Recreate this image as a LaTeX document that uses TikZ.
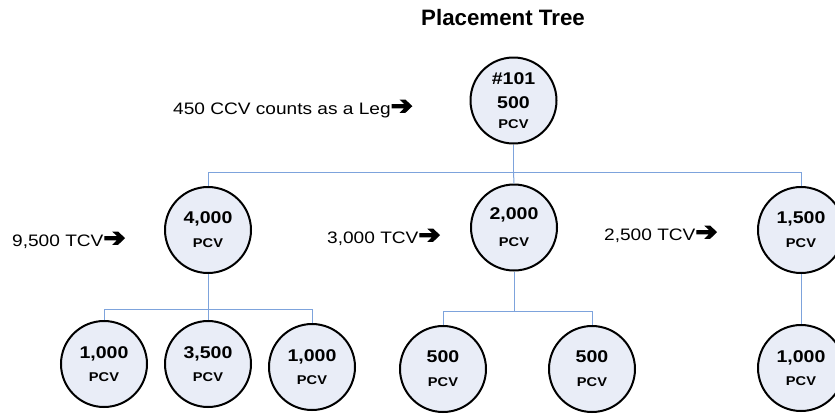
\documentclass[tikz,border=0pt]{standalone}
\usepackage{fontspec}
\setmainfont{Liberation Sans}
\newfontfamily\stf[FakeStretch=1.15]{Liberation Sans}
\newfontfamily\arrf[FakeBold=5,FakeStretch=1.05]{DejaVu Sans}
\definecolor{conncol}{RGB}{125,163,220}
\definecolor{circfill}{RGB}{233,237,247}
\newcommand{\nf}{\stf\bfseries\fontsize{17}{12}\selectfont}
\newcommand{\pf}{\stf\bfseries\fontsize{12.7}{12}\selectfont}
\newcommand{\arr}{{\arrf\fontsize{25}{26}\selectfont\raisebox{0pt}{➔}}}
\begin{document}
\begin{tikzpicture}[x=1pt,y=-1pt,
  circ/.style={circle,draw=black,line width=2pt,fill=circfill,minimum size=86pt,inner sep=0pt,align=center,font=\fontsize{10}{12}\selectfont},
  conn/.style={draw=conncol,line width=1pt},
  lbl/.style={anchor=base west,inner sep=0pt,font=\stf\fontsize{16.6}{20}\selectfont},
  ttl/.style={anchor=base,inner sep=0pt,font=\bfseries\fontsize{22.3}{26}\selectfont}]
\useasboundingbox (0,0) rectangle (835,413);
\coordinate (b0) at (513.5,172);
\coordinate (b1) at (208,309);
\coordinate (b2) at (514,311);
\node[circ] (root) at (513.5,100.5) {\nf \#101\\[11pt]\nf 500\\[8pt]\pf PCV};
\node[circ] (c1) at (208,230) {\nf 4,000\\[12pt]\pf PCV};
\node[circ] (c2) at (514,227.5) {\nf 2,000\\[15pt]\pf PCV};
\node[circ] (c3) at (801,230) {\nf 1,500\\[12pt]\pf PCV};
\node[circ] (d1) at (104,364) {\nf 1,000\\[11pt]\pf PCV};
\node[circ] (d2) at (208,364) {\nf 3,500\\[11pt]\pf PCV};
\node[circ] (d3) at (312,367) {\nf 1,000\\[11pt]\pf PCV};
\node[circ] (d4) at (443,369) {\nf 500\\[12pt]\pf PCV};
\node[circ] (d5) at (592,369) {\nf 500\\[12pt]\pf PCV};
\node[circ] (d6) at (801,368) {\nf 1,000\\[11pt]\pf PCV};
\draw[conn] (root.south) -- (b0);
\draw[conn] (c1.north) |- (b0);
\draw[conn] (c3.north) |- (b0);
\draw[conn] (c2.north) -- (b0);
\draw[conn] (c1.south) -- (b1);
\draw[conn] (d1.north) |- (b1);
\draw[conn] (d3.north) |- (b1);
\draw[conn] (d2.north) -- (b1);
\draw[conn] (c2.south) -- (b2);
\draw[conn] (d4.north) |- (b2);
\draw[conn] (d5.north) |- (b2);
\draw[conn] (c3.south) -- (d6.north);
\node[ttl] (title) at (503,25) {Placement Tree};
\node[lbl] (t0) at (173,114) {450 CCV counts as a Leg\arr};
\node[lbl] (t1) at (12,246) {9,500 TCV\arr};
\node[lbl] (t2) at (327,243) {3,000 TCV\arr};
\node[lbl] (t3) at (604,240) {2,500 TCV\arr};
\end{tikzpicture}
\end{document}
